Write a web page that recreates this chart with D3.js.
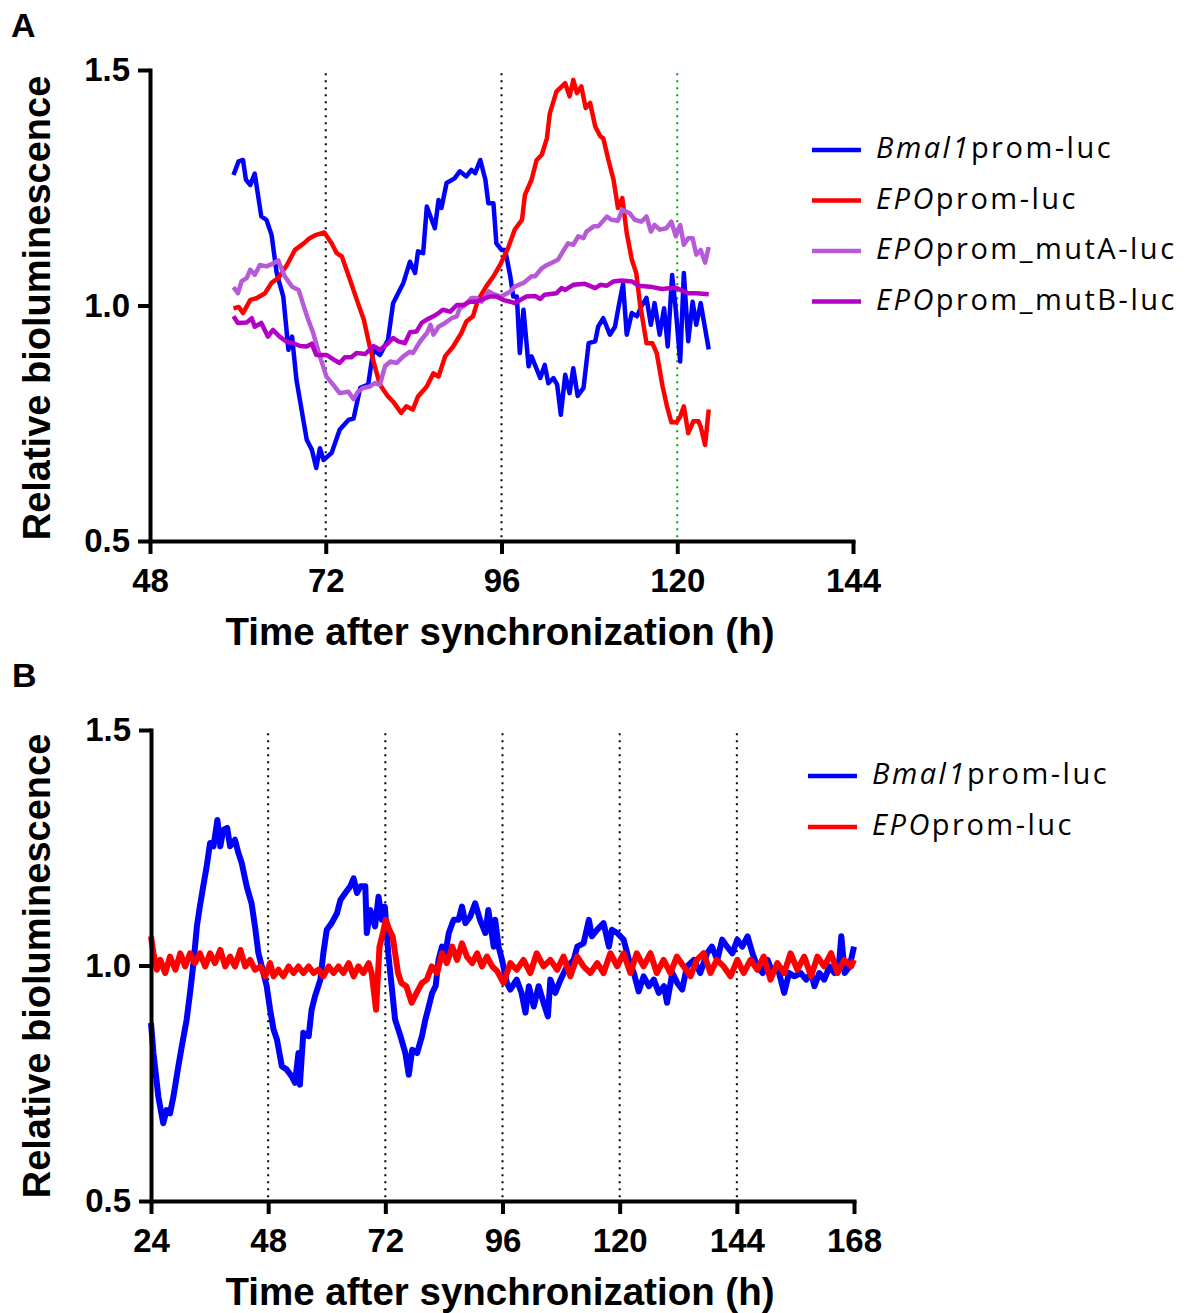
<!DOCTYPE html>
<html>
<head>
<meta charset="utf-8">
<script src="https://cdn.jsdelivr.net/npm/d3@7"></script>
<style>
  html, body { margin: 0; padding: 0; background: #fff; }
</style>
</head>
<body>
<div id="chart"></div>
<script>
// panel A: time (h), relative bioluminescence
const bmal1A = [[59.4,1.277],[60.1,1.306],[60.7,1.309],[61.1,1.267],[61.7,1.256],[62.3,1.280],[63.2,1.189],[63.9,1.182],[64.6,1.150],[65.3,1.069],[66.2,1.019],[66.9,0.906],[67.4,0.934],[68.0,0.842],[69.4,0.715],[70.1,0.694],[70.7,0.655],[71.2,0.697],[71.7,0.672],[72.8,0.687],[73.9,0.736],[75.1,0.757],[75.8,0.760],[76.7,0.825],[77.8,0.832],[78.5,0.906],[79.4,0.895],[80.5,0.927],[81.2,1.005],[82.6,1.048],[83.5,1.093],[84.2,1.069],[84.6,1.115],[85.3,1.111],[85.8,1.210],[86.9,1.164],[87.4,1.224],[87.8,1.207],[88.5,1.260],[89.6,1.270],[90.3,1.285],[91.2,1.274],[91.9,1.288],[92.4,1.281],[93.1,1.309],[93.8,1.267],[94.2,1.217],[94.9,1.217],[95.3,1.132],[96.0,1.118],[96.5,1.118],[97.2,1.062],[97.6,1.019],[98.1,1.019],[98.5,0.899],[99.0,0.991],[99.7,0.871],[100.1,0.892],[101.3,0.846],[101.9,0.874],[102.4,0.835],[103.1,0.846],[103.6,0.832],[104.1,0.768],[104.7,0.853],[105.3,0.814],[105.8,0.867],[106.4,0.808],[107.2,0.825],[107.9,0.920],[108.8,0.924],[109.2,0.955],[109.9,0.973],[110.8,0.938],[111.5,0.955],[112.0,0.998],[112.6,1.046],[113.1,0.938],[113.8,0.984],[114.5,0.977],[115.1,0.998],[115.8,1.016],[116.4,0.959],[116.9,1.005],[117.6,0.938],[118.2,0.994],[118.7,0.913],[119.3,1.065],[119.8,0.991],[120.4,0.881],[120.9,1.069],[121.5,0.924],[122.1,1.008],[122.6,0.959],[123.2,1.005],[124.3,0.907]];

const epoA = [[59.4,0.994],[60.1,0.997],[60.7,0.984],[61.7,1.012],[62.6,1.016],[63.7,1.026],[64.6,1.048],[65.5,1.058],[66.7,1.086],[67.8,1.118],[69.0,1.132],[69.8,1.143],[70.7,1.150],[71.8,1.155],[72.8,1.132],[73.5,1.111],[74.2,1.104],[75.3,1.055],[76.4,1.005],[77.2,0.970],[78.0,0.913],[78.7,0.871],[79.4,0.832],[80.5,0.807],[81.2,0.796],[82.3,0.772],[83.0,0.786],[83.9,0.779],[84.6,0.807],[85.8,0.828],[86.7,0.856],[87.4,0.849],[88.3,0.892],[89.4,0.913],[90.5,0.941],[91.2,0.966],[92.1,0.977],[92.8,1.012],[93.9,1.040],[94.9,1.062],[95.8,1.086],[96.9,1.122],[97.8,1.161],[98.8,1.182],[99.2,1.235],[100.1,1.267],[100.8,1.309],[101.5,1.320],[102.2,1.355],[102.6,1.408],[103.5,1.454],[104.7,1.472],[105.3,1.444],[105.8,1.479],[106.3,1.451],[106.9,1.465],[107.5,1.419],[108.1,1.430],[108.8,1.380],[109.5,1.359],[109.9,1.355],[110.6,1.309],[111.3,1.267],[111.9,1.207],[112.5,1.228],[113.1,1.154],[113.8,1.097],[114.4,1.069],[114.9,1.005],[115.8,0.920],[116.6,0.920],[117.2,0.899],[118.0,0.828],[118.6,0.786],[119.2,0.752],[119.9,0.752],[120.4,0.764],[120.9,0.786],[121.5,0.729],[122.2,0.754],[122.9,0.754],[123.2,0.743],[123.8,0.704],[124.3,0.779]];

const mutA = [[59.4,1.039],[60.0,1.026],[60.5,1.051],[61.2,1.058],[61.7,1.076],[62.3,1.065],[63.0,1.086],[63.9,1.083],[64.8,1.089],[65.5,1.096],[66.4,1.062],[67.4,1.040],[68.3,1.033],[69.0,0.998],[69.6,0.970],[70.3,0.941],[71.2,0.892],[72.1,0.849],[73.0,0.832],[73.9,0.814],[75.1,0.817],[75.8,0.801],[76.4,0.817],[77.1,0.825],[78.0,0.828],[78.7,0.835],[79.4,0.832],[80.1,0.871],[80.8,0.881],[81.7,0.878],[82.6,0.892],[83.5,0.902],[83.9,0.899],[84.9,0.924],[85.8,0.941],[86.3,0.959],[86.7,0.938],[87.4,0.955],[88.3,0.963],[89.2,0.973],[89.9,0.977],[90.3,0.994],[91.0,1.001],[91.9,1.016],[92.6,1.016],[93.3,1.008],[94.2,1.030],[95.1,1.023],[96.0,1.019],[97.2,1.030],[97.8,1.040],[99.0,1.048],[100.1,1.062],[100.6,1.062],[101.5,1.079],[102.2,1.086],[102.8,1.090],[103.7,1.097],[104.4,1.115],[105.1,1.132],[105.8,1.129],[106.5,1.147],[107.2,1.143],[107.6,1.157],[108.6,1.168],[109.2,1.168],[110.4,1.189],[111.0,1.182],[111.9,1.180],[112.5,1.203],[113.5,1.196],[114.2,1.182],[115.1,1.178],[115.8,1.189],[116.4,1.157],[116.9,1.171],[117.6,1.161],[118.5,1.164],[119.2,1.178],[119.8,1.147],[120.4,1.171],[120.9,1.129],[121.5,1.143],[122.1,1.143],[122.6,1.108],[123.2,1.118],[123.8,1.091],[124.3,1.124]];

const mutB = [[59.4,0.977],[60.0,0.963],[61.2,0.964],[61.9,0.973],[62.3,0.955],[63.2,0.963],[64.1,0.934],[64.8,0.948],[65.7,0.934],[66.6,0.924],[67.5,0.920],[68.5,0.914],[69.4,0.913],[70.1,0.919],[70.7,0.895],[72.1,0.895],[73.0,0.886],[73.9,0.878],[74.6,0.890],[75.5,0.890],[76.2,0.899],[77.4,0.897],[78.5,0.914],[79.4,0.906],[80.3,0.917],[81.2,0.931],[81.9,0.924],[82.8,0.920],[83.5,0.943],[84.4,0.945],[85.1,0.963],[85.8,0.970],[86.7,0.977],[87.4,0.984],[88.0,0.991],[89.0,0.987],[89.9,1.001],[90.8,1.001],[91.7,1.008],[92.6,1.008],[93.5,1.014],[94.4,1.019],[95.3,1.019],[96.2,1.012],[97.2,1.008],[97.8,1.005],[98.5,1.011],[99.4,1.019],[100.6,1.020],[101.3,1.014],[101.9,1.023],[103.5,1.026],[104.2,1.037],[104.7,1.033],[105.8,1.044],[107.4,1.046],[108.8,1.037],[109.5,1.044],[110.4,1.042],[111.3,1.051],[112.4,1.053],[113.8,1.051],[114.7,1.042],[116.3,1.040],[117.9,1.035],[119.2,1.037],[119.9,1.037],[121.5,1.026],[122.6,1.026],[124.3,1.024]];

// panel B
const bmal1B = [[24.0,0.878],[24.5,0.814],[25.5,0.722],[26.5,0.665],[27.2,0.693],[27.9,0.686],[28.6,0.722],[29.6,0.786],[30.3,0.828],[31.3,0.885],[32.0,0.942],[32.7,1.005],[33.4,1.083],[34.0,1.125],[34.7,1.168],[35.4,1.210],[36.1,1.260],[36.8,1.253],[37.6,1.309],[38.2,1.253],[38.8,1.288],[39.6,1.292],[40.2,1.253],[41.2,1.267],[41.9,1.239],[42.6,1.217],[43.6,1.168],[44.6,1.132],[45.3,1.083],[46.0,1.026],[46.7,0.998],[47.7,0.956],[48.4,0.906],[49.1,0.864],[49.8,0.843],[50.8,0.786],[51.8,0.779],[52.8,0.765],[53.5,0.751],[54.2,0.814],[54.5,0.747],[55.2,0.857],[56.3,0.850],[56.9,0.906],[57.6,0.935],[58.7,0.970],[59.3,1.026],[60.0,1.076],[61.0,1.090],[62.1,1.111],[62.8,1.139],[63.8,1.154],[64.8,1.168],[65.5,1.185],[66.2,1.154],[66.9,1.168],[67.9,1.168],[68.2,1.069],[68.9,1.118],[69.9,1.083],[70.6,1.146],[71.3,1.097],[71.9,1.125],[72.6,1.026],[73.3,0.956],[74.0,0.885],[75.1,0.850],[76.1,0.814],[76.8,0.768],[77.5,0.821],[78.5,0.814],[79.5,0.850],[80.2,0.885],[80.9,0.913],[81.6,0.942],[82.3,0.956],[82.9,1.012],[83.6,1.040],[84.3,1.026],[85.0,1.069],[86.0,1.097],[87.0,1.097],[87.7,1.125],[88.4,1.090],[89.4,1.104],[90.4,1.132],[91.4,1.097],[92.5,1.069],[93.1,1.118],[94.2,1.040],[94.5,1.097],[95.2,1.040],[95.9,1.012],[96.9,0.963],[97.6,0.949],[98.9,0.970],[99.9,0.942],[100.7,0.900],[101.4,0.956],[102.4,0.913],[103.4,0.956],[104.4,0.921],[105.3,0.892],[105.8,0.970],[106.8,0.942],[107.9,0.970],[109.2,0.998],[110.6,1.012],[111.3,1.040],[112.6,1.047],[113.7,1.097],[114.3,1.062],[115.4,1.076],[116.7,1.090],[117.8,1.040],[118.4,1.076],[119.5,1.069],[120.8,1.055],[121.9,1.012],[122.9,0.984],[123.9,0.945],[124.9,0.977],[126.0,0.956],[127.0,0.970],[128.0,0.942],[129.1,0.956],[129.7,0.921],[130.8,0.984],[131.8,0.963],[132.8,0.949],[133.8,0.998],[135.2,1.012],[136.5,0.984],[137.9,1.026],[138.9,1.040],[140.0,1.012],[141.0,1.055],[142.0,1.040],[143.1,1.026],[144.1,1.055],[145.1,1.040],[146.2,1.062],[147.2,1.026],[148.2,0.998],[149.3,0.984],[150.3,1.012],[151.3,0.984],[152.3,0.998],[153.7,0.942],[154.7,0.984],[155.8,0.977],[157.1,0.984],[158.2,0.970],[159.2,0.984],[159.9,0.956],[160.9,0.984],[161.9,0.970],[163.0,0.998],[164.0,0.984],[165.0,1.012],[165.4,1.062],[166.1,0.984],[167.1,0.998],[168.0,1.040]];

const epoB = [[24.0,1.062],[24.5,1.026],[25.2,0.991],[25.9,1.012],[26.9,0.984],[27.9,1.019],[29.0,0.991],[30.0,1.026],[31.0,0.998],[32.0,1.026],[33.0,1.005],[34.0,1.026],[35.1,0.998],[36.1,1.026],[37.1,1.005],[38.2,1.033],[39.2,0.998],[40.2,1.019],[41.2,0.998],[42.3,1.033],[43.3,0.998],[44.3,1.012],[45.3,0.991],[46.4,0.998],[47.4,0.977],[48.4,1.005],[49.1,0.977],[50.1,0.991],[51.1,0.977],[52.2,0.998],[53.2,0.984],[54.2,0.998],[55.2,0.984],[56.3,0.998],[57.3,0.984],[58.3,0.991],[59.3,0.977],[60.4,0.998],[61.4,0.984],[62.4,0.998],[63.4,0.984],[64.5,1.005],[65.5,0.977],[66.5,0.998],[67.5,0.984],[68.6,1.005],[69.2,0.984],[70.1,0.906],[70.8,1.040],[71.5,1.069],[72.1,1.097],[72.8,1.076],[73.5,1.062],[74.0,1.026],[74.6,0.984],[75.3,0.963],[76.3,0.956],[77.4,0.921],[78.4,0.942],[79.5,0.963],[80.5,0.970],[81.5,0.998],[82.6,0.984],[83.6,1.026],[84.6,1.005],[85.7,1.040],[86.7,1.012],[87.7,1.047],[88.7,1.019],[89.8,1.005],[90.8,1.026],[91.8,0.998],[92.8,1.019],[93.9,0.998],[94.9,0.988],[96.2,0.963],[97.6,1.005],[98.9,0.991],[100.3,1.012],[101.7,0.984],[103.0,1.026],[104.4,0.998],[105.8,1.012],[107.2,0.991],[108.5,1.019],[109.9,0.977],[111.3,1.019],[112.6,0.998],[114.0,0.984],[115.4,1.005],[116.7,0.984],[118.1,1.026],[119.5,0.998],[120.8,1.026],[122.2,0.984],[123.5,1.026],[124.9,0.998],[126.3,1.026],[127.6,0.984],[129.0,1.012],[130.4,0.984],[131.7,1.019],[133.1,0.998],[134.5,0.977],[135.8,1.012],[137.2,1.026],[138.6,0.984],[139.9,1.012],[141.3,0.998],[142.7,0.977],[144.1,1.012],[145.4,0.984],[146.8,1.012],[148.2,0.991],[149.5,1.019],[150.9,0.970],[152.3,1.005],[153.7,0.984],[155.0,1.026],[156.4,0.991],[157.8,1.019],[159.2,0.977],[160.5,1.019],[161.9,0.998],[163.3,1.026],[164.6,0.984],[166.0,1.012],[167.4,0.998],[168.0,1.012]];

// ticks, guides, labels
const yTicks = [0.5, 1.0, 1.5];
const xTicksA = [48, 72, 96, 120, 144];
const xTicksB = [24, 48, 72, 96, 120, 144, 168];
const guidesA = [72, 96];
const greenGuideA = [120];
const guidesB = [48, 72, 96, 120, 144];
const seriesNames = ['Bmal1', 'EPO', 'EPO', 'EPO'];
const seriesSuffix = ['prom-luc', 'prom-luc', 'prom_mutA-luc', 'prom_mutB-luc'];
const colors = ['#0000ff', '#ff0000', '#b65ad8', '#b400c4'];

const svg = d3.select('#chart').append('svg')
  .attr('width', 1191)
  .attr('height', 1313)
  .style('background', '#fff');

const tickFont = 'Liberation Sans, Arial, Helvetica, sans-serif';

function drawPanel(p) {
  const x = d3.scaleLinear().domain(p.xDomain).range(p.xRange);
  const y = d3.scaleLinear().domain([0.5, 1.5]).range(p.yRange);

  // dotted guide lines
  p.guides.forEach(function (g) {
    svg.append('line')
      .attr('x1', x(g[0])).attr('x2', x(g[0]))
      .attr('y1', y(1.493)).attr('y2', y(0.5))
      .attr('stroke', g[1])
      .attr('stroke-width', 2)
      .attr('stroke-dasharray', '2,5');
  });

  const line = d3.line()
    .x(function (d) { return x(d[0]); })
    .y(function (d) { return y(d[1]); });

  p.series.forEach(function (s, i) {
    svg.append('path')
      .datum(s)
      .attr('fill', 'none')
      .attr('stroke', colors[i])
      .attr('stroke-width', p.lineWidth)
      .attr('stroke-linejoin', 'round')
      .attr('d', line);
  });

  const xAxis = svg.append('g')
    .attr('transform', 'translate(0,' + y(0.5) + ')')
    .call(d3.axisBottom(x).tickValues(p.xTicks).tickSize(13).tickSizeOuter(0).tickPadding(15).tickFormat(d3.format('d')));
  const yAxis = svg.append('g')
    .attr('transform', 'translate(' + x(p.xDomain[0]) + ',0)')
    .call(d3.axisLeft(y).tickValues(yTicks).tickSize(12).tickSizeOuter(0).tickPadding(8).tickFormat(d3.format('.1f')));

  [xAxis, yAxis].forEach(function (a) {
    a.select('.domain').attr('stroke', '#000').attr('stroke-width', 4).attr('stroke-linecap', 'square');
    a.selectAll('.tick line').attr('stroke', '#000').attr('stroke-width', 4);
    a.selectAll('.tick text')
      .attr('fill', '#000')
      .style('font-family', tickFont)
      .style('font-weight', 'bold')
      .style('font-size', '33px');
  });

  // axis titles
  svg.append('text')
    .attr('transform', 'translate(' + p.yTitle[0] + ',' + p.yTitle[1] + ') rotate(-90)')
    .attr('text-anchor', 'middle')
    .style('font-family', tickFont)
    .style('font-weight', 'bold')
    .style('font-size', '38px')
    .text('Relative bioluminescence');

  svg.append('text')
    .attr('x', p.xTitle[0]).attr('y', p.xTitle[1])
    .attr('text-anchor', 'middle')
    .style('font-family', tickFont)
    .style('font-weight', 'bold')
    .style('font-size', '38.5px')
    .text('Time after synchronization (h)');

  // panel letter
  svg.append('text')
    .attr('x', p.letter[1]).attr('y', p.letter[2])
    .style('font-family', tickFont)
    .style('font-weight', 'bold')
    .style('font-size', '34px')
    .text(p.letter[0]);

  // legend
  p.series.forEach(function (s, i) {
    const ly = p.legend[1] + i * p.legend[2];
    svg.append('line')
      .attr('x1', p.legend[0]).attr('x2', p.legend[0] + 49)
      .attr('y1', ly).attr('y2', ly)
      .attr('stroke', colors[i])
      .attr('stroke-width', 4.5);
    const t = svg.append('text')
      .attr('x', p.legend[0] + 64).attr('y', ly + 8)
      .style('font-family', 'Open Sans, sans-serif')
      .style('font-size', '29px')
      .style('letter-spacing', '2.5px');
    t.append('tspan').style('font-style', 'italic').text(seriesNames[i]);
    t.append('tspan').text(seriesSuffix[i]);
  });
}

drawPanel({
  xDomain: [48, 144], xRange: [150, 853], yRange: [541, 70],
  xTicks: xTicksA,
  guides: guidesA.map(function (g) { return [g, '#000']; }).concat(greenGuideA.map(function (g) { return [g, '#00a000']; })),
  series: [bmal1A, epoA, mutA, mutB],
  lineWidth: 4.5,
  yTitle: [50, 308], xTitle: [500, 645],
  letter: ['A', 11, 37],
  legend: [812, 150, 50.5]
});

drawPanel({
  xDomain: [24, 168], xRange: [151, 854], yRange: [1201, 730],
  xTicks: xTicksB,
  guides: guidesB.map(function (g) { return [g, '#000']; }),
  series: [bmal1B, epoB],
  lineWidth: 6,
  yTitle: [50, 966], xTitle: [500, 1305],
  letter: ['B', 12, 687],
  legend: [808, 776, 51]
});
</script>
</body>
</html>
